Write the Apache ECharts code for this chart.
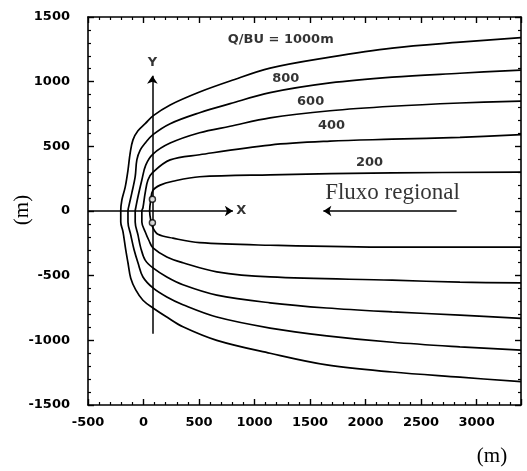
<!DOCTYPE html>
<html>
<head>
<meta charset="utf-8">
<script src="https://cdn.jsdelivr.net/npm/echarts@6/dist/echarts.min.js"></script>
<style>
  html, body { margin: 0; padding: 0; background: #fff; }
  #chart { width: 527px; height: 471px; }
</style>
</head>
<body>
<div id="chart"></div>
<script>
// Axis extents (m)
const xRange = [-500, 3400];
const yRange = [-1500, 1500];
const tickStep = 500;

// Contour levels Q/BU (m) and their traced outlines, from the upper right edge
// round the upstream nose to the lower right edge
const contourLevels = [200, 400, 600, 800, 1000];

const contour200 = [
  [3400, 300], [2240, 295], [1140, 280], [505, 265], [265, 230], [150, 200],
  [85, 160], [65, 85], [55, 0], [65, -70], [85, -130], [130, -180],
  [265, -210], [505, -245], [1140, -265], [2240, -280], [3400, -280]
];
const contour400 = [
  [3400, 590], [2850, 570], [2240, 555], [1680, 540], [1140, 510], [505, 435],
  [240, 395], [85, 300], [40, 240], [15, 140], [-5, 25], [-15, 0],
  [-15, -85], [15, -160], [50, -230], [85, -285], [210, -355], [355, -400],
  [660, -470], [1140, -510], [2240, -535], [2850, -550], [3400, -555]
];
const contour600 = [
  [3400, 850], [2850, 835], [2240, 810], [1680, 775], [1140, 720], [780, 655],
  [505, 605], [240, 525], [85, 440], [20, 355], [-15, 240], [-50, 110],
  [-70, 25], [-75, 0], [-75, -85], [-50, -185], [-25, -285], [15, -380],
  [85, -440], [210, -510], [355, -570], [660, -650], [1140, -710],
  [1650, -750], [2240, -780], [2850, -805], [3400, -830]
];
const contour800 = [
  [3400, 1090], [2850, 1065], [2240, 1035], [1680, 990], [1140, 915], [780, 830],
  [505, 760], [240, 675], [85, 590], [15, 525], [-30, 470], [-60, 395],
  [-75, 265], [-105, 140], [-130, 45], [-140, 0], [-140, -85], [-115, -185],
  [-85, -300], [-50, -400], [-5, -510], [85, -595], [210, -665], [355, -725],
  [660, -820], [1140, -905], [1650, -965], [2240, -1015], [2850, -1050],
  [3400, -1075]
];
const contour1000 = [
  [3400, 1340], [2850, 1305], [2240, 1260], [1680, 1190], [1140, 1105], [780, 1005],
  [505, 920], [240, 820], [85, 735], [15, 675], [-50, 620], [-95, 550],
  [-120, 450], [-140, 315], [-165, 185], [-195, 85], [-205, 0], [-205, -85],
  [-185, -160], [-160, -300], [-140, -400], [-115, -520], [-70, -610],
  [-5, -690], [85, -750], [210, -820], [355, -895], [660, -1000],
  [1140, -1100], [1650, -1190], [2240, -1245], [2850, -1285], [3400, -1320]
];
const contours = [contour200, contour400, contour600, contour800, contour1000];

// Pumping wells
const wells = [[80, 90], [80, -90]];

// Local X / Y reference axes drawn inside the plot
const localXAxis = [[-500, 0], [805, 0]];
const localYAxis = [[80, -950], [80, 1045]];
// Regional flow arrow (points towards -x)
const flowArrow = [[2820, 0], [1620, 0]];

// Contour labels
const levelLabels = ['Q/BU = 1000m', '800', '600', '400', '200'];
const levelLabelAt = [[1236, 1322], [1281, 1021], [1505, 843], [1694, 657], [2036, 371]];
const axisLetters = ['X', 'Y'];
const axisLetterAt = [[880, 0], [80, 1150]];
const flowText = 'Fluxo regional';
const flowTextAt = [2243, 140];

const ink = '#000';
const tickFont = { color: ink, fontFamily: 'DejaVu Sans', fontSize: 13, fontWeight: 'bold' };

function frameAxis(extra) {
  return Object.assign({
    type: 'value',
    interval: tickStep,
    axisLine: { show: true, onZero: false, lineStyle: { color: ink, width: 1.6 } },
    axisTick: { show: true, inside: true, length: 6, lineStyle: { color: ink, width: 1.4 } },
    minorTick: { show: true, splitNumber: 5, length: 3, lineStyle: { color: ink, width: 1.2 } },
    splitLine: { show: false },
    minorSplitLine: { show: false }
  }, extra);
}
const tickLabel = v => (v % tickStep === 0 ? String(v) : '');

const series = [];
contours.forEach((pts, i) => {
  series.push({
    name: 'Q/BU ' + contourLevels[i],
    type: 'line',
    data: pts,
    smooth: 0.35,
    symbol: 'none',
    silent: true,
    lineStyle: { color: ink, width: 1.7 }
  });
});

series.push({
  type: 'lines',
  coordinateSystem: 'cartesian2d',
  silent: true,
  symbol: ['none', 'arrow'],
  symbolSize: 8,
  lineStyle: { color: ink, width: 1.5, opacity: 1, curveness: 0 },
  data: [
    { coords: localXAxis },
    { coords: localYAxis },
    { coords: flowArrow }
  ]
});

series.push({
  type: 'scatter',
  data: wells,
  symbol: 'circle',
  symbolSize: 6,
  silent: true,
  itemStyle: { color: '#fff', borderColor: ink, borderWidth: 1.5 },
  z: 5
});

series.push({
  type: 'scatter',
  silent: true,
  symbolSize: 0,
  data: levelLabels.map((t, i) => ({ value: levelLabelAt[i], name: t }))
    .concat(axisLetters.map((t, i) => ({ value: axisLetterAt[i], name: t }))),
  label: {
    show: true,
    position: 'inside',
    formatter: p => p.name,
    color: ink,
    fontFamily: 'DejaVu Sans',
    fontSize: 13,
    fontWeight: 'bold'
  }
});

series.push({
  type: 'scatter',
  silent: true,
  symbolSize: 0,
  data: [{ value: flowTextAt, name: flowText }],
  label: {
    show: true,
    position: 'inside',
    formatter: p => p.name,
    color: ink,
    fontFamily: 'Liberation Serif',
    fontSize: 23
  }
});

const chart = echarts.init(document.getElementById('chart'), null, { renderer: 'canvas' });
chart.setOption({
  animation: false,
  backgroundColor: '#fff',
  grid: { left: 88, right: 6, top: 17, bottom: 66, containLabel: false },
  xAxis: [
    frameAxis({ min: xRange[0], max: xRange[1], position: 'bottom',
      axisLabel: Object.assign({ margin: 11, formatter: tickLabel }, tickFont) }),
    frameAxis({ min: xRange[0], max: xRange[1], position: 'top', axisLabel: { show: false } })
  ],
  yAxis: [
    frameAxis({ min: yRange[0], max: yRange[1], position: 'left',
      axisLabel: Object.assign({ margin: 18, formatter: tickLabel }, tickFont) }),
    frameAxis({ min: yRange[0], max: yRange[1], position: 'right', axisLabel: { show: false } })
  ],
  graphic: [
    { type: 'text', x: 22, y: 210, rotation: Math.PI / 2,
      style: { text: '(m)', font: '21px "Liberation Serif"', fill: ink, align: 'center', verticalAlign: 'middle' } },
    { type: 'text', x: 492, y: 456,
      style: { text: '(m)', font: '21px "Liberation Serif"', fill: ink, align: 'center', verticalAlign: 'middle' } }
  ],
  series: series
});
</script>
</body>
</html>
